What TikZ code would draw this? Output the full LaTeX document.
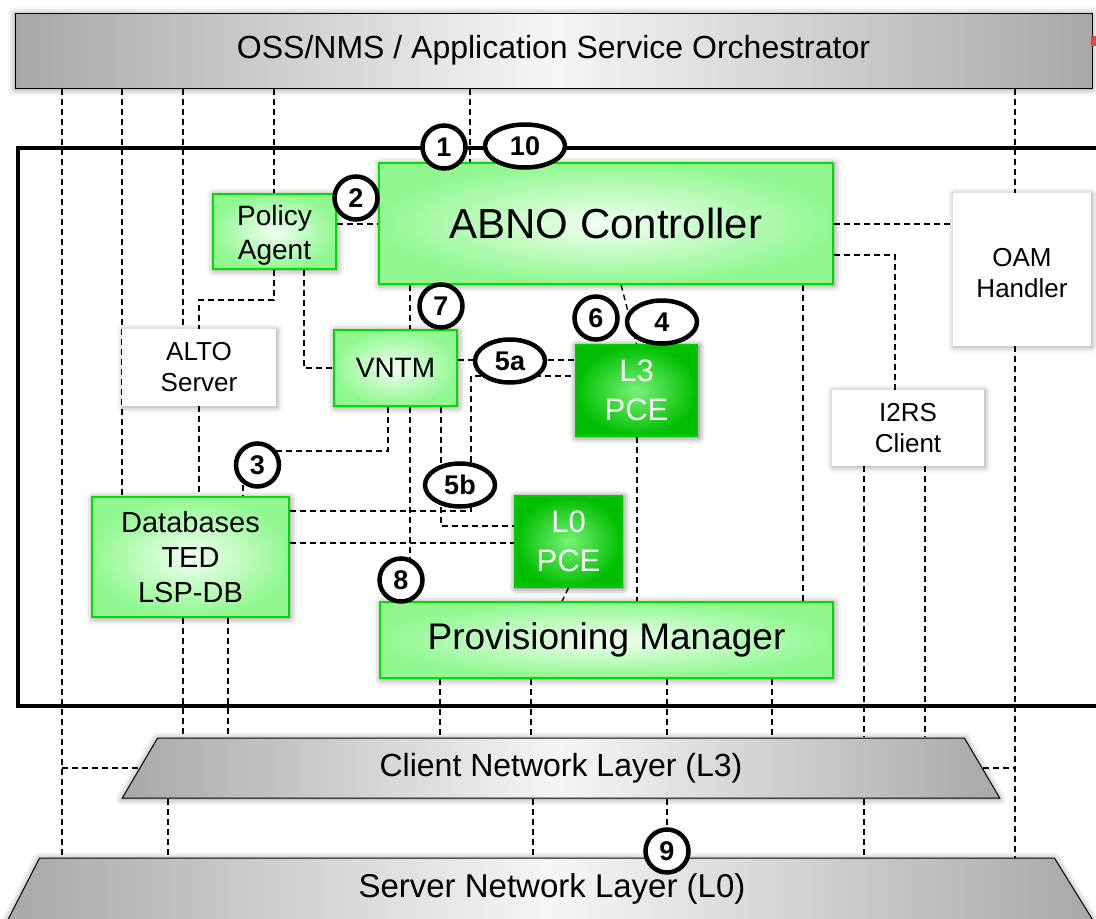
\documentclass[tikz,border=0pt]{standalone}
\usepackage{fontspec}
\setmainfont{Liberation Sans}
\usetikzlibrary{shapes.geometric,shadows.blur}
\definecolor{gEdge}{RGB}{145,248,145}
\definecolor{gCenter}{RGB}{242,255,242}
\definecolor{gBorder}{RGB}{0,222,0}
\definecolor{dEdge}{RGB}{0,190,0}
\definecolor{dCenter}{RGB}{120,242,120}
\definecolor{dBorder}{RGB}{0,205,0}
\definecolor{lEdge}{RGB}{168,168,168}
\definecolor{lCenter}{RGB}{246,246,246}
\definecolor{redmark}{RGB}{225,70,70}
\pgfdeclarelayer{bg}
\pgfsetlayers{bg,main}
\tikzset{
  dl/.style={draw=black, line width=1.4pt, dash pattern=on 6pt off 4pt},
  gbox/.style={draw=gBorder, line width=1.5pt, inner color=gCenter, outer color=gEdge,
    blur shadow={shadow xshift=1pt, shadow yshift=-1pt, shadow blur radius=7pt, shadow opacity=50},
    align=center, inner sep=0pt, font=\fontsize{28}{34}\selectfont},
  pce/.style={draw=dBorder, line width=1.5pt, inner color=dCenter, outer color=dEdge, text=white,
    blur shadow={shadow xshift=1pt, shadow yshift=-1pt, shadow blur radius=7pt, shadow opacity=65},
    align=center, inner sep=0pt, font=\fontsize{31}{39}\selectfont},
  wbox/.style={fill=white,
    blur shadow={shadow xshift=1pt, shadow yshift=-1pt, shadow blur radius=6pt, shadow opacity=40},
    align=center, inner sep=0pt, font=\fontsize{26}{31}\selectfont},
  layer/.style={draw=black, line width=1pt, left color=lEdge, right color=lEdge, middle color=lCenter,
    blur shadow={shadow xshift=0pt, shadow yshift=-1pt, shadow blur radius=7pt, shadow opacity=45},
    inner sep=0pt, font=\fontsize{32}{32}\selectfont},
  badge/.style={draw=black, line width=4.5pt, fill=white, inner sep=0pt, font=\bfseries\fontsize{27}{27}\selectfont},
  cbadge/.style={badge, circle, minimum size=43pt},
  ebadge/.style={badge, ellipse, minimum width=70pt, minimum height=43pt},
}
\begin{document}
\begin{tikzpicture}[x=1pt,y=-1pt]
\useasboundingbox (0,0) rectangle (1096,919);
% main boxes
\node[layer, minimum width=1077, minimum height=75] (oss) at (553.5,50.5) {OSS/NMS / Application Service Orchestrator};
\node[gbox, minimum width=454, minimum height=121, font=\fontsize{42}{42}\selectfont] (abno) at (606,223.5) {ABNO Controller};
\node[gbox, minimum width=123, minimum height=75, text height=62pt] (policy) at (274.5,231.5) {Policy\\Agent};
\node[gbox, minimum width=123, minimum height=76] (vntm) at (395.5,368) {VNTM};
\node[pce, minimum width=122, minimum height=91] (l3) at (636.5,390.5) {L3\\PCE};
\node[wbox, minimum width=154, minimum height=77] (alto) at (199,367.5) {ALTO\\Server};
\node[gbox, minimum width=197, minimum height=120, font=\fontsize{29}{35}\selectfont] (db) at (190.5,557) {Databases\\TED\\LSP-DB};
\node[pce, minimum width=107, minimum height=91] (l0) at (568.5,541.5) {L0\\PCE};
\node[gbox, minimum width=453, minimum height=76, font=\fontsize{37}{37}\selectfont] (pm) at (606.5,640) {Provisioning Manager};
\node[wbox, minimum width=138, minimum height=153, text height=56pt] (oam) at (1022,269.5) {OAM\\Handler};
\node[wbox, minimum width=152, minimum height=76] (i2rs) at (908,428) {I2RS\\Client};
\node[layer, trapezium, trapezium left angle=62, trapezium right angle=62, trapezium stretches=true,
  minimum width=878, minimum height=60] (client) at (561,768) {Client Network Layer (L3)};
\node[layer, trapezium, trapezium left angle=68, trapezium right angle=64, trapezium stretches=true,
  minimum width=1088, minimum height=62, font=\fontsize{33}{33}\selectfont] (server) at (547,889) {\hspace*{10pt}Server Network Layer (L0)};
% badges
\node[cbadge] (b1) at (444,147) {1};
\node[ebadge, minimum width=80pt] (b10) at (525,146) {10};
\node[cbadge] (b2) at (356,198) {2};
\node[cbadge] (b7) at (441,306) {7};
\node[cbadge] (b6) at (596,318) {6};
\node[ebadge] (b4) at (662,322) {4};
\node[ebadge] (b5a) at (510,361) {5a};
\node[cbadge] (b3) at (257.5,465) {3};
\node[ebadge] (b5b) at (460,485) {5b};
\node[cbadge] (b8) at (401,580) {8};
\node[cbadge] (b9) at (667,851) {9};
\fill[redmark] (1091,36) rectangle (1097,46);
\begin{pgfonlayer}{bg}
\draw[line width=4.5pt] (18,148) rectangle (1120,706);
% from OSS
\draw[dl] (oss.south -| 62,0) -- (server.north -| 62,0);
\draw[dl] (client.west -| 62,0) -- (client.west);
\draw[dl] (oss.south -| 122,0) -- (db.north -| 122,0);
\draw[dl] (oss.south -| 183,0) -- (alto.north -| 183,0);
\draw[dl] (oss.south -| 274,0) -- (policy.north -| 274,0);
\draw[dl] (oss.south -| 470,0) -- (abno.north -| 470,0);
\draw[dl] (oss.south -| 1015,0) -- (oam.north -| 1015,0);
\draw[dl] (oam.south -| 1015,0) -- (server.north -| 1015,0);
\draw[dl] (client.east) -- (client.east -| 1015,0);
% ABNO
\draw[dl] (policy.east |- 0,224) -- (abno.west |- 0,224);
\draw[dl] (abno.east |- 0,224) -- (oam.west |- 0,224);
\draw[dl] (abno.east |- 0,255) -| (i2rs.north -| 895,0);
\draw[dl] (abno.south -| 803,0) -- (pm.north -| 803,0);
\draw[dl] (abno.south -| 410,0) -- (vntm.north -| 410,0);
\draw[dl] (abno.south -| 621,0) -- (l3.north);
% policy
\draw[dl] (policy.south -| 274,0) |- (199,300) -- (alto.north -| 199,0);
\draw[dl] (alto.south -| 199,0) -- (db.north -| 199,0);
\draw[dl] (policy.south -| 304,0) |- (vntm.west);
% VNTM
\draw[dl] (vntm.south -| 410,0) -- (pm.north -| 410,0);
\draw[dl] (vntm.south -| 388,0) |- (b3.center |- 0,451);
\draw[dl] (b3.center -| 243,0) -- (db.north -| 243,0);
\draw[dl] (vntm.east |- 0,360) -- (l3.west |- 0,360);
\draw[dl] (vntm.south -| 441,0) |- (l0.west |- 0,526);
% DB
\draw[dl] (db.east |- 0,511) -| (471,376) -- (l3.west |- 0,376);
\draw[dl] (db.east |- 0,543) -- (l0.west |- 0,543);
\draw[dl] (db.south -| 183,0) -- (client.north -| 183,0);
\draw[dl] (db.south -| 228,0) -- (client.north -| 228,0);
% PCEs
\draw[dl] (l3.south -| 637,0) -- (pm.north -| 637,0);
\draw[dl] (l0.south) -- (pm.north -| 562,0);
% PM
\draw[dl] (pm.south -| 440,0) -- (client.north -| 440,0);
\draw[dl] (pm.south -| 531,0) -- (client.north -| 531,0);
\draw[dl] (pm.south -| 667,0) -- (client.north -| 667,0);
\draw[dl] (pm.south -| 772,0) -- (client.north -| 772,0);
% I2RS
\draw[dl] (i2rs.south -| 864,0) -- (client.north -| 864,0);
\draw[dl] (i2rs.south -| 925,0) -- (client.north -| 925,0);
% client to server
\draw[dl] (client.south -| 168,0) -- (server.north -| 168,0);
\draw[dl] (client.south -| 533,0) -- (server.north -| 533,0);
\draw[dl] (client.south -| 667,0) -- (b9.center);
\draw[dl] (client.south -| 864,0) -- (server.north -| 864,0);
\end{pgfonlayer}
\end{tikzpicture}
\end{document}
